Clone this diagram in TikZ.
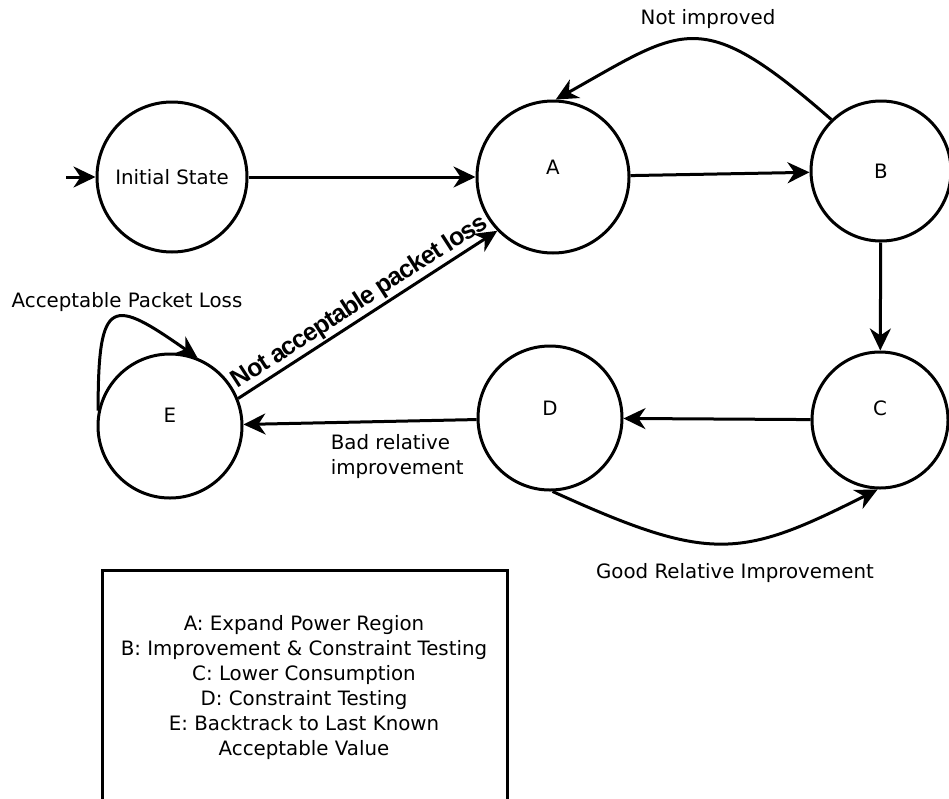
\documentclass[tikz,border=0pt]{standalone}
\usepackage{fontspec}
\setmainfont{DejaVu Sans}
\newfontfamily\arialfont[LetterSpace=-4]{Liberation Sans}
\usetikzlibrary{arrows.meta}
\begin{document}
\begin{tikzpicture}[x=1pt,y=-1pt,line width=3pt,
  state/.style={circle,draw,minimum size=#1,inner sep=0pt},
  arr/.style={-{Stealth[length=22pt,width=21pt,inset=7pt]}},
  lbl/.style={font=\fontsize{19.8}{25}\selectfont},
  boldlbl/.style={font=\arialfont\bfseries\fontsize{25}{29}\selectfont}]
\useasboundingbox (0,0) rectangle (949,798);
\clip (0,0) rectangle (949,798);
% states
\node[state=150pt,lbl] (init) at (172,177) {Initial State};
\node[state=152pt,label={[lbl,yshift=10pt]center:A}] (A) at (553,177) {};
\node[state=140pt,label={[lbl]center:B}] (B) at (881,171) {};
\node[state=136pt,label={[lbl,yshift=12pt]center:C}] (C) at (880,420) {};
\node[state=144pt,label={[lbl,yshift=10pt]center:D}] (D) at (550,418) {};
\node[state=144pt,label={[lbl,yshift=11pt]center:E}] (E) at (170,426) {};
\coordinate (entry) at (66,177);
% transitions
\draw[arr] (entry) -- (init);
\draw[arr] (init) -- (A);
\draw[arr] (A) -- (B);
\draw[arr] (B) -- (C);
\draw[arr] (C) -- (D);
\draw[arr] (D) -- (E);
\draw[arr] (E.22) -- (A.224) node[midway,above,sloped,inner sep=1.5pt,boldlbl] {Not acceptable packet loss};
\draw[arr] (B.134) .. controls (700,5) and (685,27) .. (A.88);
\draw[arr] (D.272) .. controls (710,563) and (740,559) .. (C.268);
\draw[arr] (E.168) .. controls (98,295) and (112,298) .. (E.68);
% labels
\node[lbl] (lni) at (708,19) {Not improved};
\node[lbl] (lapl) at (127,302) {Acceptable Packet Loss};
\node[lbl,anchor=west,align=left] (lbad) at (326,457) {Bad relative\\improvement};
\node[lbl] (lgood) at (735,573) {Good Relative Improvement};
% legend
\draw (102,570) rectangle (507,815);
\node[lbl,align=center] (legend) at (304,688) {A: Expand Power Region\\B: Improvement \& Constraint Testing\\C: Lower Consumption\\D: Constraint Testing\\E: Backtrack to Last Known\\Acceptable Value};
\end{tikzpicture}
\end{document}
